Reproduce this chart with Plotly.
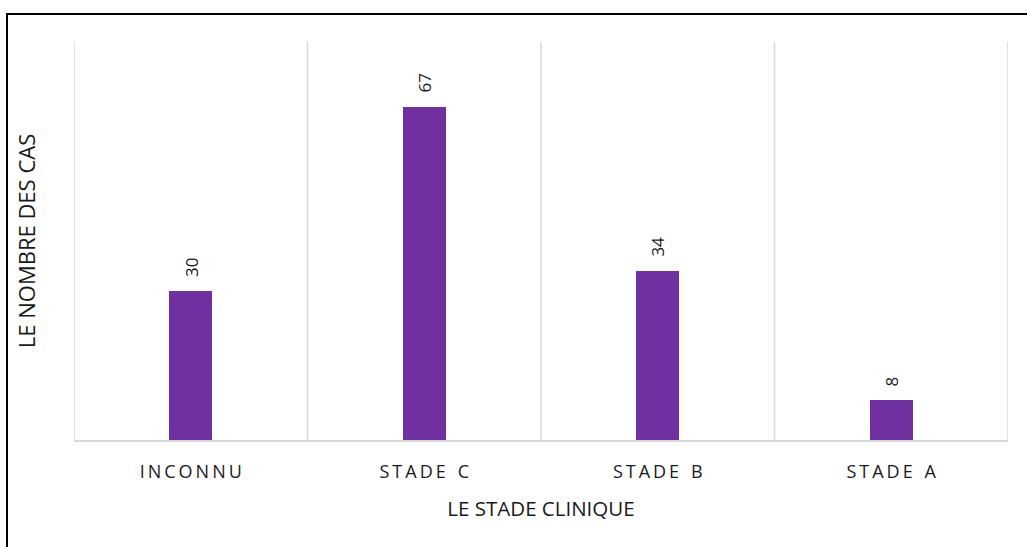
import plotly.graph_objects as go

# Data
categories = ["INCONNU", "STADE C", "STADE B", "STADE A"]
counts = [30, 67, 34, 8]
y_max = 80

THIN = "\u2009"


def spaced(label):
    # widen letter spacing: thin space between letters, wider gap between words
    words = label.split(" ")
    return (THIN * 4).join(THIN.join(w) for w in words)


tick_text = [spaced(c) for c in categories]

bar_color = "#7030a0"
grid_color = "#d9d9d9"
text_color = "#1a1a1a"
font_family = "'Open Sans', sans-serif"

fig = go.Figure()
fig.add_trace(
    go.Bar(
        x=categories,
        y=counts,
        width=0.184,
        marker=dict(color=bar_color, line=dict(width=0)),
        hoverinfo="skip",
    )
)

# value labels above each bar, rotated
for cat, val in zip(categories, counts):
    fig.add_annotation(
        x=cat, y=val, xref="x", yref="y",
        text=str(val), textangle=-90,
        showarrow=False, yanchor="bottom", xanchor="center",
        yshift=12,
        font=dict(family=font_family, size=17, color=text_color),
    )

# vertical separators between categories
shapes = []
for i in range(len(categories) + 1):
    shapes.append(dict(
        type="line", xref="x", yref="paper",
        x0=i - 0.5, x1=i - 0.5, y0=0, y1=1,
        line=dict(color=grid_color, width=1.5),
        layer="below",
    ))
# outer frame
W, H = 1027, 547
L, R, T, B = 74, 19, 42, 107
pw, ph = W - L - R, H - T - B
shapes.append(dict(
    type="rect", xref="paper", yref="paper",
    x0=(7 - L) / pw, x1=(1035 - L) / pw,
    y0=(H - B - 555) / ph, y1=(H - B - 14) / ph,
    line=dict(color="black", width=2), fillcolor="rgba(0,0,0,0)",
    layer="above",
))

fig.update_layout(
    width=W, height=H,
    margin=dict(l=L, r=R, t=T, b=B),
    paper_bgcolor="white", plot_bgcolor="white",
    showlegend=False,
    shapes=shapes,
    bargap=0,
    xaxis=dict(
        type="category",
        range=[-0.5, len(categories) - 0.5],
        tickmode="array", tickvals=categories, ticktext=tick_text,
        showgrid=False, zeroline=False,
        showline=True, linecolor=grid_color, linewidth=1.5,
        ticks="outside", ticklen=15, tickcolor="rgba(0,0,0,0)",
        tickfont=dict(family=font_family, size=18, color=text_color),
        title=dict(text="LE STADE CLINIQUE", standoff=19,
                   font=dict(family=font_family, size=20.5, color=text_color)),
    ),
    yaxis=dict(
        range=[0, y_max],
        showgrid=False, zeroline=False, showline=False,
        showticklabels=False, ticks="",
        title=dict(text="LE NOMBRE DES CAS", standoff=31,
                   font=dict(family=font_family, size=22, color=text_color)),
    ),
)

fig.write_html("out.html")
